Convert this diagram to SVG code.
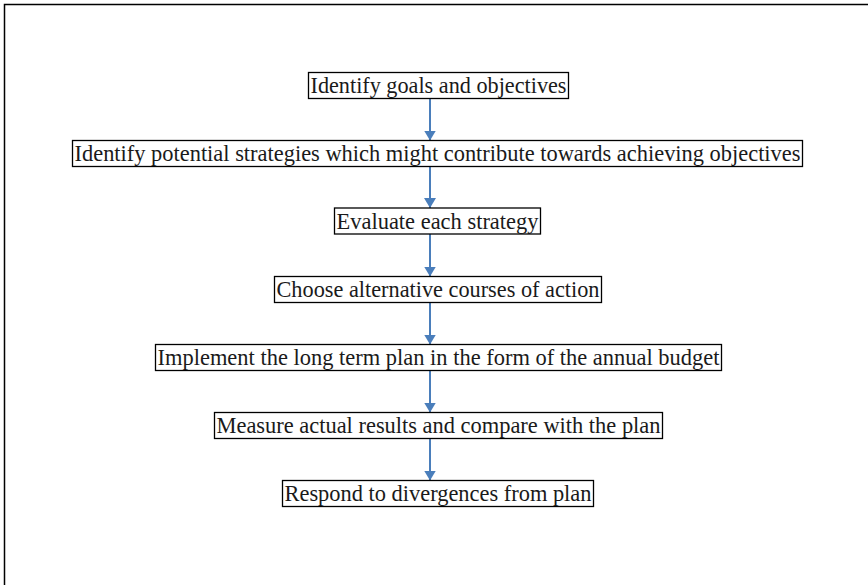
<svg xmlns="http://www.w3.org/2000/svg" width="868" height="585" viewBox="0 0 868 585">
<defs>
<style>
.box{fill:#fff;stroke:#000;stroke-width:1.3}
.t{font-family:"Liberation Serif","Times New Roman",serif;font-size:22.4px;fill:#1a1a1a;text-anchor:middle}
.c{stroke:#4a7ebb;stroke-width:2;fill:none;marker-end:url(#ah)}
.frame{stroke:#000;stroke-width:1.5;fill:none}
</style>
<marker id="ah" viewBox="0 0 10 12" refX="10" refY="6" markerWidth="10" markerHeight="12" markerUnits="userSpaceOnUse" orient="auto">
<path d="M0,0 L10,6 L0,12 Z" fill="#4a7ebb"/>
</marker>
</defs>
<rect width="868" height="585" fill="#fff"/>
<path class="frame" d="M4.5,585 V4.5 H868"/>
<g id="connectors">
<line class="c" x1="430" y1="98.5" x2="430" y2="140.5"/>
<line class="c" x1="430" y1="166.5" x2="430" y2="208"/>
<line class="c" x1="430" y1="234" x2="430" y2="276.5"/>
<line class="c" x1="430" y1="302.5" x2="430" y2="344.5"/>
<line class="c" x1="430" y1="370.5" x2="430" y2="412.5"/>
<line class="c" x1="430" y1="438.5" x2="430" y2="480.5"/>
</g>
<g id="n1"><rect class="box" x="308.5" y="72.5" width="260" height="26"/><text class="t" x="438.5" y="93" textLength="256" lengthAdjust="spacingAndGlyphs">Identify goals and objectives</text></g>
<g id="n2"><rect class="box" x="72.5" y="140.5" width="730" height="26"/><text class="t" x="437.5" y="161" textLength="726" lengthAdjust="spacingAndGlyphs">Identify potential strategies which might contribute towards achieving objectives</text></g>
<g id="n3"><rect class="box" x="334.5" y="208" width="206" height="26"/><text class="t" x="437.5" y="228.5" textLength="202" lengthAdjust="spacingAndGlyphs">Evaluate each strategy</text></g>
<g id="n4"><rect class="box" x="274.5" y="276.5" width="327" height="26"/><text class="t" x="438" y="297" textLength="323" lengthAdjust="spacingAndGlyphs">Choose alternative courses of action</text></g>
<g id="n5"><rect class="box" x="155.5" y="344.5" width="566" height="26"/><text class="t" x="438.5" y="365" textLength="562" lengthAdjust="spacingAndGlyphs">Implement the long term plan in the form of the annual budget</text></g>
<g id="n6"><rect class="box" x="214.5" y="412.5" width="448" height="26"/><text class="t" x="438.5" y="433" textLength="444" lengthAdjust="spacingAndGlyphs">Measure actual results and compare with the plan</text></g>
<g id="n7"><rect class="box" x="282.5" y="480.5" width="311" height="26"/><text class="t" x="438" y="501" textLength="307" lengthAdjust="spacingAndGlyphs">Respond to divergences from plan</text></g>
</svg>
